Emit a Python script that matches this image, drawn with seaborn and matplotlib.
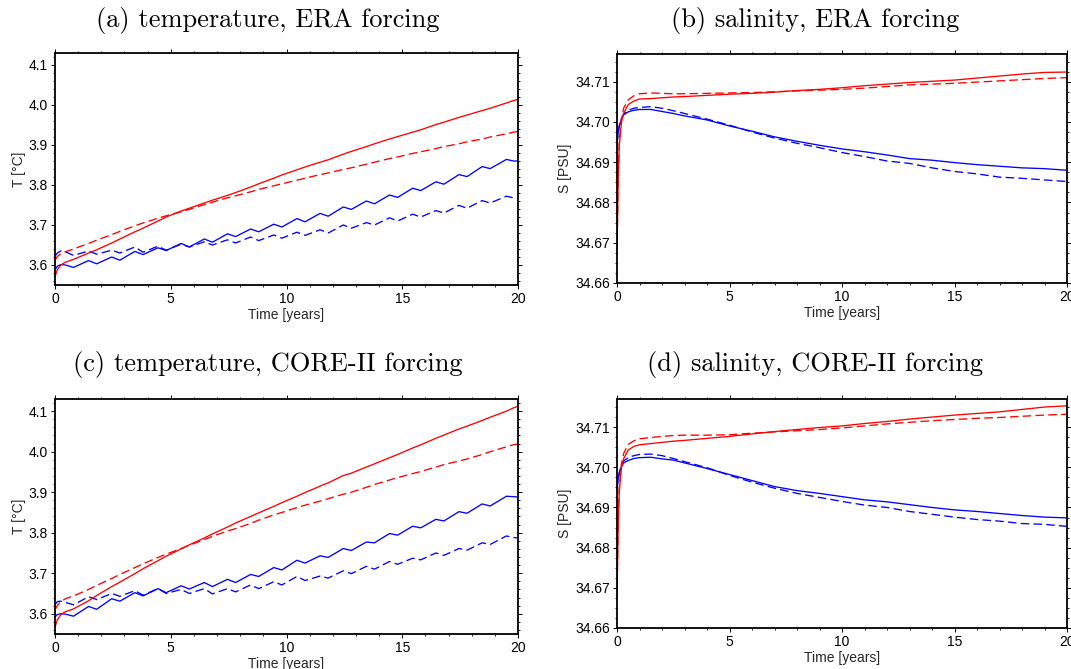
import numpy as np
import pandas as pd
import matplotlib
matplotlib.use("Agg")
import matplotlib.pyplot as plt
import seaborn as sns
from matplotlib.ticker import MultipleLocator, FormatStrFormatter

# ---------------- data ----------------
TITLES = ["(a) temperature, ERA forcing", "(b) salinity, ERA forcing",
          "(c) temperature, CORE-II forcing", "(d) salinity, CORE-II forcing"]

T_TIME = [0, 0.1, 0.25, 0.45, 0.8, 1.45, 1.8, 2.45, 2.8, 3.45, 3.8, 4.45, 4.8,
          5.45, 5.8, 6.45, 6.8, 7.45, 7.8, 8.45, 8.8, 9.45, 9.8, 10.45, 10.8,
          11.45, 11.8, 12.45, 12.8, 13.45, 13.8, 14.45, 14.8, 15.45, 15.8,
          16.45, 16.8, 17.45, 17.8, 18.45, 18.8, 19.5, 19.8, 20.0]

# panel (a) temperature, ERA
A_RED_SOLID = [3.571, 3.588, 3.600, 3.607, 3.614, 3.630, 3.638, 3.655, 3.665, 3.683, 3.692,
               3.710, 3.720, 3.735, 3.742, 3.755, 3.762, 3.774, 3.781, 3.795, 3.803, 3.817,
               3.825, 3.838, 3.845, 3.857, 3.863, 3.877, 3.884, 3.896, 3.903, 3.915, 3.921,
               3.932, 3.938, 3.951, 3.957, 3.969, 3.975, 3.986, 3.992, 4.005, 4.011, 4.014]
A_RED_DASH = [3.612, 3.621, 3.628, 3.633, 3.640, 3.654, 3.662, 3.676, 3.684, 3.698, 3.705,
              3.717, 3.723, 3.733, 3.739, 3.751, 3.757, 3.768, 3.773, 3.783, 3.789, 3.798,
              3.803, 3.812, 3.817, 3.826, 3.830, 3.839, 3.843, 3.852, 3.857, 3.866, 3.870,
              3.879, 3.883, 3.891, 3.896, 3.903, 3.908, 3.915, 3.920, 3.928, 3.932, 3.934]
A_BLUE_SOLID = [3.588, 3.597, 3.601, 3.600, 3.594, 3.611, 3.603, 3.620, 3.612, 3.634, 3.626,
                3.643, 3.636, 3.654, 3.645, 3.665, 3.657, 3.678, 3.671, 3.690, 3.683, 3.702,
                3.695, 3.716, 3.708, 3.729, 3.722, 3.745, 3.739, 3.760, 3.753, 3.775, 3.769,
                3.792, 3.786, 3.808, 3.802, 3.826, 3.821, 3.846, 3.841, 3.864, 3.860, 3.860]
A_BLUE_DASH = [3.622, 3.630, 3.635, 3.633, 3.624, 3.635, 3.627, 3.637, 3.630, 3.645, 3.632,
               3.647, 3.637, 3.652, 3.645, 3.658, 3.650, 3.663, 3.655, 3.670, 3.661, 3.675,
               3.667, 3.682, 3.674, 3.688, 3.680, 3.700, 3.692, 3.706, 3.700, 3.718, 3.710,
               3.727, 3.720, 3.736, 3.730, 3.749, 3.742, 3.761, 3.755, 3.772, 3.768, 3.767]

# panel (c) temperature, CORE-II
C_RED_SOLID = [3.567, 3.585, 3.598, 3.605, 3.612, 3.632, 3.645, 3.667, 3.678, 3.699, 3.711,
               3.731, 3.742, 3.760, 3.770, 3.787, 3.797, 3.814, 3.824, 3.840, 3.849, 3.865,
               3.874, 3.890, 3.899, 3.915, 3.923, 3.941, 3.947, 3.962, 3.970, 3.985, 3.993,
               4.009, 4.017, 4.033, 4.041, 4.056, 4.063, 4.077, 4.085, 4.100, 4.108, 4.112]
C_RED_DASH = [3.610, 3.620, 3.630, 3.637, 3.644, 3.660, 3.670, 3.687, 3.697, 3.714, 3.723,
              3.739, 3.747, 3.761, 3.769, 3.783, 3.791, 3.804, 3.810, 3.823, 3.831, 3.844,
              3.850, 3.862, 3.868, 3.878, 3.884, 3.895, 3.900, 3.912, 3.919, 3.930, 3.936,
              3.946, 3.951, 3.962, 3.968, 3.977, 3.982, 3.993, 4.000, 4.012, 4.017, 4.019]
C_BLUE_SOLID = [3.592, 3.598, 3.600, 3.599, 3.594, 3.618, 3.611, 3.637, 3.631, 3.652, 3.644,
                3.662, 3.652, 3.669, 3.661, 3.677, 3.667, 3.685, 3.677, 3.697, 3.692, 3.714,
                3.708, 3.732, 3.725, 3.743, 3.739, 3.761, 3.756, 3.777, 3.775, 3.798, 3.794,
                3.816, 3.812, 3.833, 3.829, 3.852, 3.848, 3.871, 3.866, 3.890, 3.889, 3.888]
C_BLUE_DASH = [3.622, 3.630, 3.631, 3.628, 3.622, 3.642, 3.635, 3.650, 3.643, 3.657, 3.646,
               3.662, 3.650, 3.660, 3.650, 3.662, 3.649, 3.662, 3.654, 3.671, 3.662, 3.679,
               3.671, 3.692, 3.682, 3.693, 3.688, 3.706, 3.699, 3.717, 3.710, 3.729, 3.722,
               3.737, 3.733, 3.750, 3.744, 3.761, 3.757, 3.775, 3.771, 3.792, 3.788, 3.787]

S_TIME = [0, 0.05, 0.1, 0.2, 0.3, 0.5, 0.75, 1, 1.5, 2, 2.5, 3, 4, 5, 6, 7, 8, 9, 10,
          11, 12, 13, 14, 15, 16, 17, 18, 19, 20]

# panel (b) salinity, ERA
B_RED_SOLID = [34.6675, 34.6850, 34.6940, 34.7000, 34.7022, 34.7043, 34.7052, 34.7057,
               34.7058, 34.7060, 34.7062, 34.7063, 34.7066, 34.7069, 34.7071, 34.7074,
               34.7078, 34.7081, 34.7085, 34.7090, 34.7094, 34.7098, 34.7101, 34.7104,
               34.7109, 34.7114, 34.7119, 34.7123, 34.7124]
B_RED_DASH = [34.6675, 34.6860, 34.6950, 34.7008, 34.7035, 34.7055, 34.7065, 34.7070,
              34.7072, 34.7071, 34.7070, 34.7070, 34.7071, 34.7072, 34.7073, 34.7075,
              34.7077, 34.7079, 34.7081, 34.7084, 34.7088, 34.7092, 34.7094, 34.7096,
              34.7099, 34.7102, 34.7105, 34.7108, 34.7110]
B_BLUE_SOLID = [34.6945, 34.6972, 34.6990, 34.7008, 34.7018, 34.7025, 34.7029, 34.7031,
                34.7031, 34.7026, 34.7021, 34.7015, 34.7005, 34.6990, 34.6977, 34.6963,
                34.6952, 34.6942, 34.6933, 34.6926, 34.6918, 34.6909, 34.6905, 34.6899,
                34.6894, 34.6890, 34.6886, 34.6884, 34.6880]
B_BLUE_DASH = [34.6945, 34.6972, 34.6990, 34.7009, 34.7020, 34.7029, 34.7034, 34.7036,
               34.7038, 34.7034, 34.7028, 34.7021, 34.7007, 34.6992, 34.6975, 34.6960,
               34.6947, 34.6936, 34.6924, 34.6914, 34.6903, 34.6897, 34.6886, 34.6877,
               34.6871, 34.6863, 34.6860, 34.6856, 34.6852]

# panel (d) salinity, CORE-II
D_RED_SOLID = [34.6678, 34.6850, 34.6940, 34.7000, 34.7022, 34.7043, 34.7052, 34.7056,
               34.7059, 34.7062, 34.7065, 34.7067, 34.7072, 34.7077, 34.7083, 34.7089,
               34.7094, 34.7099, 34.7103, 34.7109, 34.7114, 34.7120, 34.7125, 34.7130,
               34.7134, 34.7138, 34.7144, 34.7150, 34.7153]
D_RED_DASH = [34.6678, 34.6860, 34.6950, 34.7010, 34.7035, 34.7057, 34.7066, 34.7071,
              34.7074, 34.7077, 34.7079, 34.7080, 34.7080, 34.7081, 34.7085, 34.7088,
              34.7091, 34.7094, 34.7098, 34.7103, 34.7108, 34.7112, 34.7116, 34.7119,
              34.7122, 34.7124, 34.7127, 34.7130, 34.7132]
D_BLUE_SOLID = [34.6946, 34.6970, 34.6985, 34.7002, 34.7011, 34.7017, 34.7022, 34.7024,
                34.7025, 34.7021, 34.7018, 34.7011, 34.6997, 34.6982, 34.6967, 34.6952,
                34.6942, 34.6935, 34.6927, 34.6919, 34.6914, 34.6907, 34.6900, 34.6894,
                34.6890, 34.6885, 34.6880, 34.6876, 34.6874]
D_BLUE_DASH = [34.6946, 34.6970, 34.6987, 34.7006, 34.7016, 34.7024, 34.7029, 34.7032,
               34.7033, 34.7029, 34.7022, 34.7014, 34.6999, 34.6980, 34.6963, 34.6948,
               34.6935, 34.6925, 34.6915, 34.6906, 34.6900, 34.6890, 34.6883, 34.6876,
               34.6870, 34.6866, 34.6860, 34.6858, 34.6853]

# ---------------- styling ----------------
sns.set_theme(style="ticks")
plt.rcParams["font.family"] = ["Liberation Sans", "DejaVu Sans"]

W, H = 1071, 669
fig = plt.figure(figsize=(W / 100, H / 100), dpi=100)


def px_axes(l, t, r, b):
    return fig.add_axes([l / W, 1 - b / H, (r - l) / W, (b - t) / H])


def draw(ax, t, series, ylim, ymaj, ymin, fmt, ylabel):
    frames = []
    for (case, run), vals in series.items():
        frames.append(pd.DataFrame({"time": t, "value": vals, "case": case, "run": run}))
    df = pd.concat(frames, ignore_index=True)
    sns.lineplot(data=df, x="time", y="value", hue="case", style="run",
                 hue_order=["blue", "red"], style_order=["solid", "dashed"],
                 palette={"red": "#ff0000", "blue": "#0000ff"},
                 dashes={"solid": "", "dashed": (6.5, 3.2)},
                 linewidth=0.95, legend=False, ax=ax, sort=False, estimator=None)
    ax.set_xlim(0, 20)
    ax.set_ylim(*ylim)
    ax.xaxis.set_major_locator(MultipleLocator(5))
    ax.xaxis.set_minor_locator(MultipleLocator(1))
    ax.yaxis.set_major_locator(MultipleLocator(ymaj))
    ax.yaxis.set_minor_locator(MultipleLocator(ymin))
    ax.yaxis.set_major_formatter(FormatStrFormatter(fmt))
    ax.xaxis.set_major_formatter(FormatStrFormatter("%d"))
    ax.tick_params(which="both", direction="out", top=True, right=True,
                   labeltop=False, labelright=False, colors="black", labelsize=10)
    ax.tick_params(which="major", length=3.2, width=0.7, pad=2)
    ax.tick_params(which="minor", length=1.5, width=0.6)
    for sp in ax.spines.values():
        sp.set_linewidth(1.3)
        sp.set_color("black")
        sp.set_visible(True)
    ax.set_xlabel("Time [years]", fontsize=10, labelpad=1)
    ax.set_ylabel(ylabel, fontsize=10, labelpad=2)
    ax.set_facecolor("white")


ax_a = px_axes(55, 53, 518, 285)
draw(ax_a, T_TIME, {("red", "solid"): A_RED_SOLID, ("red", "dashed"): A_RED_DASH,
                    ("blue", "solid"): A_BLUE_SOLID, ("blue", "dashed"): A_BLUE_DASH},
     (3.55, 4.13), 0.1, 0.02, "%.1f", "T [°C]")

ax_b = px_axes(617, 53.5, 1067, 283)
draw(ax_b, S_TIME, {("red", "solid"): B_RED_SOLID, ("red", "dashed"): B_RED_DASH,
                    ("blue", "solid"): B_BLUE_SOLID, ("blue", "dashed"): B_BLUE_DASH},
     (34.66, 34.717), 0.01, 0.0025, "%.2f", "S [PSU]")

ax_c = px_axes(55, 399, 518, 634)
draw(ax_c, T_TIME, {("red", "solid"): C_RED_SOLID, ("red", "dashed"): C_RED_DASH,
                    ("blue", "solid"): C_BLUE_SOLID, ("blue", "dashed"): C_BLUE_DASH},
     (3.55, 4.13), 0.1, 0.02, "%.1f", "T [°C]")

ax_d = px_axes(617, 399, 1067, 628)
draw(ax_d, S_TIME, {("red", "solid"): D_RED_SOLID, ("red", "dashed"): D_RED_DASH,
                    ("blue", "solid"): D_BLUE_SOLID, ("blue", "dashed"): D_BLUE_DASH},
     (34.66, 34.717), 0.01, 0.0025, "%.2f", "S [PSU]")

title_pos = [(268, 21), (815, 21), (268, 365), (815, 365)]
for txt, (x, y) in zip(TITLES, title_pos):
    fig.text(x / W, 1 - y / H, txt, family="cmr10", fontsize=19,
             ha="center", va="center", color="black")

fig.savefig("out.png", dpi=100, facecolor="white")
